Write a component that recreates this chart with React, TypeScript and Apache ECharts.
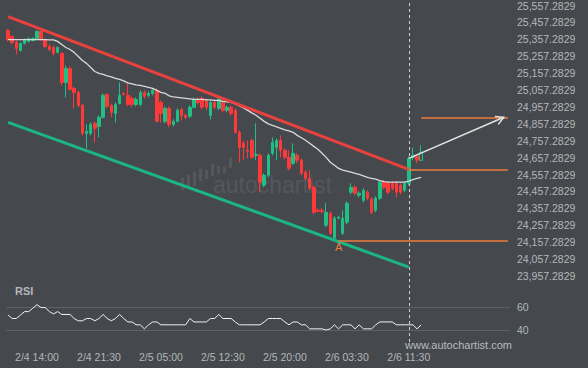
import React, { useEffect, useRef } from "react";
import * as echarts from "echarts";

// ---------- data ----------
const OFFSET = 57.2829; // tick labels sit at x,x57.2829
const TOTAL_SLOTS = 122;
const tickLabels = ["2/4 14:00", "2/4 21:30", "2/5 05:00", "2/5 12:30", "2/5 20:00", "2/6 03:30", "2/6 11:30"];

function buildCategories(): string[] {
  const out: string[] = [];
  let day = 4;
  let minutes = 10 * 60 + 30;
  for (let i = 0; i < TOTAL_SLOTS; i++) {
    const h = Math.floor(minutes / 60);
    const m = minutes % 60;
    out.push(`2/${day} ${String(h).padStart(2, "0")}:${String(m).padStart(2, "0")}`);
    minutes += 30;
    if (i === 82) minutes += 30; // missing half hour in the feed
    if (minutes >= 1440) {
      minutes -= 1440;
      day++;
    }
  }
  return out;
}
const categories = buildCategories();

// [open, close, low, high]
const candles: number[][] = [
  [25410, 25356, 25345, 25416],
  [25374, 25339, 25327, 25380],
  [25339, 25303, 25268, 25350],
  [25291, 25333, 25286, 25339],
  [25333, 25356, 25327, 25362],
  [25345, 25362, 25339, 25368],
  [25350, 25362, 25345, 25368],
  [25362, 25404, 25356, 25410],
  [25404, 25356, 25350, 25410],
  [25356, 25315, 25303, 25362],
  [25315, 25297, 25286, 25327],
  [25309, 25274, 25262, 25321],
  [25280, 25309, 25274, 25315],
  [25274, 25102, 25085, 25280],
  [25102, 25185, 25014, 25203],
  [25185, 25061, 25055, 25197],
  [25067, 25043, 24949, 25079],
  [25043, 24967, 24955, 25055],
  [24967, 24801, 24789, 24978],
  [24801, 24813, 24712, 24854],
  [24801, 24854, 24789, 24866],
  [24860, 24831, 24748, 24872],
  [24842, 24896, 24777, 24907],
  [24896, 25026, 24890, 25037],
  [25031, 24961, 24949, 25037],
  [24967, 24925, 24896, 24978],
  [24919, 24972, 24866, 24984],
  [24978, 25026, 24972, 25102],
  [25037, 25031, 25026, 25043],
  [25026, 24972, 24961, 25096],
  [25008, 24972, 24955, 25020],
  [24972, 25002, 24961, 25014],
  [24972, 25043, 24961, 25055],
  [25043, 25020, 25008, 25055],
  [25026, 25037, 25014, 25049],
  [25037, 25055, 25026, 25067],
  [25055, 24872, 24866, 25067],
  [24984, 24919, 24866, 24996],
  [24872, 24949, 24860, 24961],
  [24949, 24854, 24837, 24961],
  [24854, 24872, 24842, 24884],
  [24872, 24937, 24866, 24949],
  [24943, 24907, 24878, 24949],
  [24907, 24896, 24884, 24919],
  [24902, 24955, 24890, 24967],
  [24955, 25002, 24949, 25014],
  [25002, 24984, 24972, 25014],
  [25008, 24955, 24943, 25020],
  [24996, 24955, 24937, 25008],
  [24907, 24984, 24884, 24996],
  [24984, 24955, 24943, 24996],
  [24949, 25002, 24937, 25014],
  [24984, 24937, 24925, 24996],
  [24937, 24955, 24925, 24967],
  [24955, 24919, 24907, 24967],
  [24937, 24807, 24801, 24949],
  [24807, 24718, 24630, 24819],
  [24742, 24718, 24642, 24759],
  [24701, 24695, 24653, 24759],
  [24759, 24659, 24653, 24771],
  [24671, 24677, 24642, 24860],
  [24671, 24512, 24453, 24683],
  [24494, 24553, 24482, 24565],
  [24553, 24671, 24541, 24683],
  [24683, 24748, 24671, 24777],
  [24718, 24759, 24642, 24771],
  [24759, 24701, 24659, 24789],
  [24701, 24659, 24647, 24712],
  [24659, 24594, 24583, 24701],
  [24624, 24683, 24612, 24742],
  [24671, 24642, 24624, 24683],
  [24642, 24565, 24553, 24653],
  [24571, 24535, 24524, 24583],
  [24535, 24476, 24464, 24583],
  [24482, 24334, 24322, 24494],
  [24346, 24340, 24334, 24358],
  [24346, 24340, 24328, 24358],
  [24258, 24334, 24246, 24388],
  [24328, 24210, 24199, 24340],
  [24181, 24299, 24175, 24311],
  [24299, 24305, 24293, 24311],
  [24210, 24299, 24199, 24346],
  [24275, 24388, 24263, 24399],
  [24453, 24482, 24441, 24506],
  [24482, 24447, 24435, 24494],
  [24435, 24447, 24423, 24458],
  [24405, 24464, 24393, 24476],
  [24453, 24417, 24405, 24464],
  [24411, 24334, 24322, 24423],
  [24346, 24417, 24334, 24429],
  [24417, 24512, 24405, 24524],
  [24512, 24482, 24470, 24524],
  [24506, 24453, 24441, 24518],
  [24506, 24476, 24464, 24518],
  [24506, 24453, 24423, 24518],
  [24494, 24453, 24441, 24506],
  [24464, 24506, 24453, 24518],
  [24506, 24653, 24494, 24665],
  [24659, 24671, 24642, 24718],
  [24665, 24642, 24624, 24677],
  [24642, 24689, 24636, 24730],
];

const movingAverage: number[] = [
  25356, 25356, 25356, 25356, 25356, 25356, 25356, 25356, 25356, 25356,
  25354, 25354, 25345, 25327, 25309, 25297, 25280, 25256, 25232, 25215,
  25191, 25167, 25156, 25150, 25141, 25135, 25126, 25120, 25111, 25100,
  25094, 25088, 25085, 25079, 25073, 25067, 25055, 25043, 25038, 25023,
  25017, 25014, 25011, 25008, 25005, 25002, 25002, 25002, 24999, 24999,
  24996, 24996, 24990, 24987, 24984, 24975, 24964, 24952, 24937, 24922,
  24908, 24890, 24872, 24857, 24848, 24840, 24831, 24822, 24816, 24807,
  24789, 24775, 24760, 24742, 24724, 24707, 24683, 24659, 24630, 24612,
  24594, 24583, 24577, 24571, 24565, 24559, 24550, 24541, 24535, 24530,
  24521, 24515, 24512, 24512, 24512, 24512, 24512, 24518, 24527, 24535,
  24541,
];

const rsi: number[] = [
  53, 50, 50, 53, 56, 56, 59, 62, 59.5, 59.5,
  56, 54, 56, 53.5, 53.5, 53.5, 50, 48, 48, 50,
  50, 48, 50, 53.5, 50, 48, 50, 53.5, 50, 47,
  47, 44.5, 44.5, 41, 44.5, 47, 47, 44.5, 44.5, 44.5,
  44.5, 44.5, 44.5, 44.5, 50, 47, 47, 47, 47, 50,
  50, 53.5, 50, 50, 50, 47, 44.5, 44.5, 44.5, 44.5,
  44.5, 44.5, 47, 50, 50, 50, 50, 47, 44.5, 47,
  47, 44.5, 44.5, 41, 41, 41, 41, 40, 41, 44.5,
  41, 44.5, 44.5, 44.5, 41, 44.5, 41, 41, 41, 44.5,
  47, 47, 47, 47, 44.5, 44.5, 44.5, 44.5, 44.5, 41,
  44.5,
];

// pattern lines: [index, price]
const resistanceLine = [[0, 25492], [97, 24588]];
const supportLine = [[0, 24866], [97, 24010]];
const targetLevel = [[100, 24896], [121, 24896]];
const breakoutLevel = [[97, 24587], [121, 24587]];
const lowLevel = [[80, 24167], [121, 24167]];
const forecastArrow = [[97, 24653], [120, 24896]];
const pointA = [80, 24167];
const breakoutIndex = 97;

// ---------- styles ----------
const BG = "#45484d";
const UP = "#1fbf85";
const DOWN = "#ff3838";
const RED_LINE = "#e8423f";
const GREEN_LINE = "#1bb683";
const ORANGE = "#ef7a3a";
const LABEL = "#b4b7bb";
const FONT = "'Liberation Sans', Arial, sans-serif";

function fmtPrice(v: number): string {
  const s = (v + OFFSET).toFixed(4);
  const [ip, dp] = s.split(".");
  return ip.replace(/\B(?=(\d{3})+(?!\d))/g, ",") + "." + dp;
}

function seg(pts: number[][], color: string, width: number) {
  return [
    { coord: [categories[pts[0][0]], pts[0][1] - OFFSET], lineStyle: { color, width, type: "solid" } },
    { coord: [categories[pts[1][0]], pts[1][1] - OFFSET] },
  ];
}

export default function App() {
  const ref = useRef<HTMLDivElement>(null);

  useEffect(() => {
    if (!ref.current) return;
    const chart = echarts.init(ref.current, null, { renderer: "svg" });

    const candleData = candles.map((c, i) => {
      const v = c.map((x) => x - OFFSET);
      if (i === candles.length - 1) {
        return { value: v, itemStyle: { color: "rgba(0,0,0,0)", borderColor: UP, borderWidth: 1 } };
      }
      return v;
    });

    const option: any = {
      animation: false,
      backgroundColor: BG,
      textStyle: { fontFamily: FONT },
      grid: [
        { left: 6, right: 78, top: 5, height: 271 },
        { left: 6, right: 78, top: 307, height: 23 },
      ],
      xAxis: [
        {
          type: "category",
          gridIndex: 0,
          data: categories,
          boundaryGap: true,
          show: false,
        },
        {
          type: "category",
          gridIndex: 1,
          data: categories,
          boundaryGap: true,
          axisLine: { show: false },
          axisTick: { show: false },
          axisLabel: {
            color: LABEL,
            fontSize: 10.5,
            fontFamily: FONT,
            margin: 21,
            interval: (_i: number, v: string) => tickLabels.includes(v),
          },
        },
      ],
      yAxis: [
        {
          type: "value",
          gridIndex: 0,
          position: "right",
          min: 23900,
          max: 25500,
          interval: 100,
          axisLine: { show: false },
          axisTick: { show: false },
          splitLine: { show: false },
          axisLabel: {
            color: LABEL,
            fontSize: 10.5,
            fontFamily: FONT,
            margin: 7,
            showMinLabel: true,
            showMaxLabel: true,
            formatter: (v: number) => fmtPrice(v),
          },
        },
        {
          type: "value",
          gridIndex: 1,
          position: "right",
          min: 40,
          max: 60,
          interval: 20,
          axisLine: { show: false },
          axisTick: { show: false },
          splitLine: { show: true, lineStyle: { color: "#5d6065", width: 1 } },
          axisLabel: { color: LABEL, fontSize: 10.5, fontFamily: FONT, margin: 7 },
        },
      ],
      series: [
        {
          type: "candlestick",
          xAxisIndex: 0,
          yAxisIndex: 0,
          data: candleData,
          barWidth: 3,
          itemStyle: {
            color: UP,
            color0: DOWN,
            borderColor: UP,
            borderColor0: DOWN,
            borderWidth: 1,
          },
          z: 3,
          markLine: {
            silent: true,
            symbol: ["none", "none"],
            label: { show: false },
            emphasis: { disabled: true },
            data: [
              seg(resistanceLine, RED_LINE, 3),
              seg(supportLine, GREEN_LINE, 3),
              seg(targetLevel, ORANGE, 1.5),
              seg(breakoutLevel, ORANGE, 1.5),
              seg(lowLevel, ORANGE, 1.5),
              seg(forecastArrow, "#e4e4e4", 1.5),
            ],
          },
          markPoint: {
            silent: true,
            data: [
              {
                coord: [categories[pointA[0]], pointA[1] - OFFSET],
                symbol: "circle",
                symbolSize: 1,
                itemStyle: { color: "rgba(0,0,0,0)" },
                label: {
                  show: true,
                  formatter: "A",
                  position: "bottom",
                  distance: 0,
                  color: ORANGE,
                  fontSize: 11,
                  fontFamily: FONT,
                },
              },
            ],
          },
        },
        {
          type: "line",
          xAxisIndex: 0,
          yAxisIndex: 0,
          data: movingAverage.map((v) => v - OFFSET),
          showSymbol: false,
          symbol: "none",
          lineStyle: { color: "#d9d9d9", width: 1.3 },
          z: 4,
          silent: true,
        },
        {
          type: "line",
          xAxisIndex: 1,
          yAxisIndex: 1,
          data: rsi,
          showSymbol: false,
          symbol: "none",
          clip: false,
          lineStyle: { color: "#f2f2f2", width: 1 },
          silent: true,
        },
      ],
    };

    chart.setOption(option);

    // overlays positioned through the chart's own scales
    const xb = chart.convertToPixel({ xAxisIndex: 0 }, categories[breakoutIndex]) as number;
    const xLine = Math.round(xb) + 0.5;
    const p1 = chart.convertToPixel({ gridIndex: 0 }, [
      categories[forecastArrow[0][0]],
      forecastArrow[0][1] - OFFSET,
    ]) as number[];
    const p2 = chart.convertToPixel({ gridIndex: 0 }, [
      categories[forecastArrow[1][0]],
      forecastArrow[1][1] - OFFSET,
    ]) as number[];
    const ang = Math.atan2(p2[1] - p1[1], p2[0] - p1[0]);
    const L = 9;
    const spread = 0.5;
    const w1 = [p2[0] - L * Math.cos(ang - spread), p2[1] - L * Math.sin(ang - spread)];
    const w2 = [p2[0] - L * Math.cos(ang + spread), p2[1] - L * Math.sin(ang + spread)];

    const wmColor = "#54575c";
    const wmBars = [
      [181, 178, 190],
      [187, 175, 187],
      [193, 172, 186],
      [199, 169, 181],
      [205, 170, 179],
      [211, 164, 176],
      [217, 166, 174],
      [223, 167, 173],
      [229, 158, 168],
    ];

    chart.setOption({
      graphic: [
        ...wmBars.map((b) => ({
          type: "rect",
          silent: true,
          z: 0,
          shape: { x: b[0], y: b[1], width: 3, height: b[2] - b[1] },
          style: { fill: wmColor },
        })),
        {
          type: "text",
          silent: true,
          z: 0,
          x: 213,
          y: 185,
          style: {
            text: "autochartist",
            fill: wmColor,
            font: `23px ${FONT}`,
            textVerticalAlign: "middle",
          },
        },
        {
          type: "line",
          silent: true,
          z: 1,
          shape: { x1: xLine, y1: 3, x2: xLine, y2: 343 },
          style: { stroke: "#cfcfcf", lineWidth: 1, lineDash: [3, 3] },
        },
        {
          type: "polyline",
          silent: true,
          z: 10,
          shape: { points: [w1, p2, w2] },
          style: { stroke: "#e4e4e4", lineWidth: 1.5, fill: null },
        },
        {
          type: "text",
          silent: true,
          x: 15,
          y: 291,
          style: {
            text: "RSI",
            fill: LABEL,
            font: `bold 11px ${FONT}`,
            textVerticalAlign: "middle",
          },
        },
        {
          type: "text",
          silent: true,
          x: 405,
          y: 345,
          style: {
            text: "www.autochartist.com",
            fill: "#b9bcc0",
            font: `11px ${FONT}`,
            textVerticalAlign: "middle",
          },
        },
      ],
    });

    return () => chart.dispose();
  }, []);

  return (
    <div
      ref={ref}
      style={{ position: "absolute", left: 0, top: 0, width: 588, height: 368 }}
    />
  );
}
